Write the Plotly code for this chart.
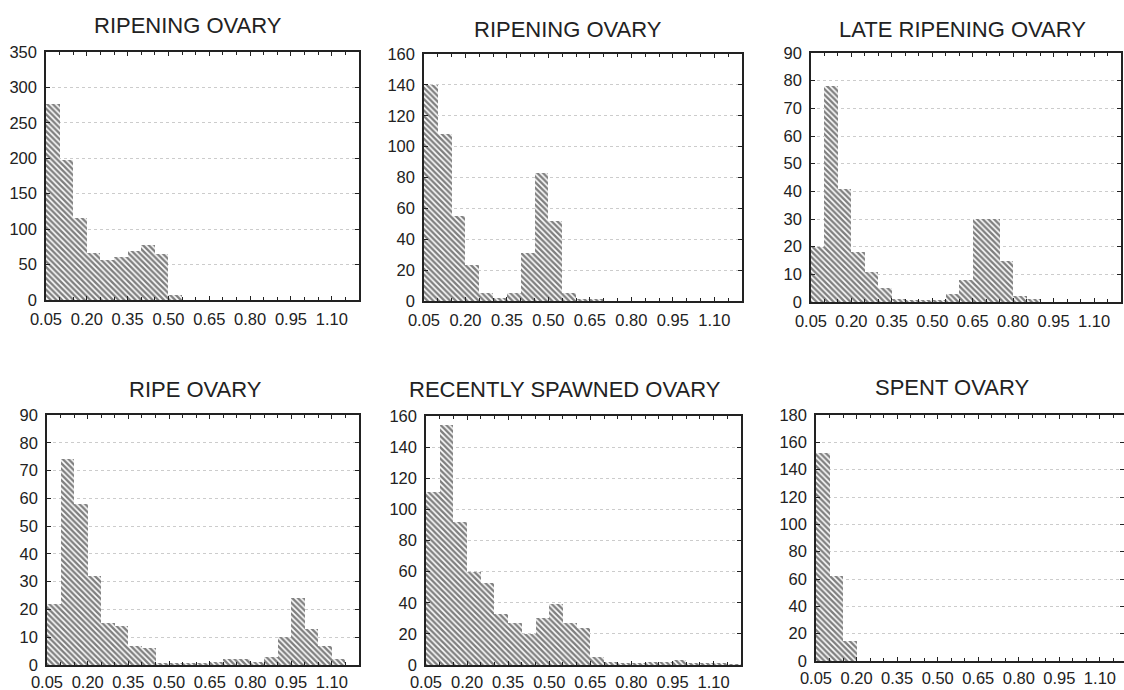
import plotly.graph_objects as go

bin_left = [0.05, 0.10, 0.15, 0.20, 0.25, 0.30, 0.35, 0.40, 0.45, 0.50, 0.55, 0.60,
            0.65, 0.70, 0.75, 0.80, 0.85, 0.90, 0.95, 1.00, 1.05, 1.10, 1.15]
tick_vals = [0.05, 0.20, 0.35, 0.50, 0.65, 0.80, 0.95, 1.10]
tick_text = ["0.05", "0.20", "0.35", "0.50", "0.65", "0.80", "0.95", "1.10"]

titles = ["RIPENING OVARY", "RIPENING OVARY", "LATE RIPENING OVARY",
          "RIPE OVARY", "RECENTLY SPAWNED OVARY", "SPENT OVARY"]

ripening_a = [276, 197, 116, 66, 57, 61, 69, 77, 65, 7, 0, 0, 0, 0, 0, 0, 0, 0, 0, 0, 0, 0, 0]
ripening_b = [140, 108, 55, 23, 5, 2, 5, 31, 83, 52, 5, 1, 1, 0, 0, 0, 0, 0, 0, 0, 0, 0, 0]
late_ripening = [20, 78, 41, 18, 11, 5, 1, 0.5, 0.5, 0.5, 3, 8, 30, 30, 15, 2, 1, 0, 0, 0, 0, 0, 0]
ripe = [22, 74, 58, 32, 15, 14, 7, 6, 0.5, 0.5, 0.5, 0.5, 1, 2, 2, 1, 3, 10, 24, 13, 7, 2, 0]
recently_spawned = [111, 154, 92, 60, 53, 33, 27, 20, 30, 39, 27, 24, 5, 2, 1, 1, 2, 2, 3, 1, 1, 1, 0.5]
spent = [152, 62, 15, 0, 0, 0, 0, 0, 0, 0, 0, 0, 0, 0, 0, 0, 0, 0, 0, 0, 0, 0, 0]

series = [ripening_a, ripening_b, late_ripening, ripe, recently_spawned, spent]
y_max = [350, 160, 90, 90, 160, 180]
y_step = [50, 20, 10, 10, 20, 20]

W, H = 1124, 690
# frame pixel boxes: left, right, top, bottom
frames = [(46, 359, 52, 300), (424, 742, 54, 301), (811, 1121, 53, 302),
          (47, 359, 415, 665), (426, 741, 416, 665), (816, 1124, 415, 661)]
x_hi = [1.20, 1.20, 1.20, 1.20, 1.20, 1.189]
x_standoff = [3, 3, 3, 1, 1, 1]
title_pos = [(188, 25), (568, 29), (962, 30), (195, 390), (565, 390), (952, 387)]

fig = go.Figure()
font_family = "Liberation Sans, Arial, sans-serif"

for i, vals in enumerate(series):
    n = i + 1
    xa = "x" if n == 1 else f"x{n}"
    ya = "y" if n == 1 else f"y{n}"
    fig.add_trace(go.Bar(
        x=bin_left, y=vals, width=0.05, offset=0,
        xaxis=xa, yaxis=ya,
        marker=dict(color="white", line=dict(width=0),
                    pattern=dict(shape="\\", fgcolor="#000000", bgcolor="white",
                                 size=4, solidity=0.6)),
        showlegend=False, hoverinfo="x+y",
    ))
    l, r, t, b = frames[i]
    xkey = "xaxis" if n == 1 else f"xaxis{n}"
    ykey = "yaxis" if n == 1 else f"yaxis{n}"
    fig.layout[xkey] = dict(
        domain=[l / W, r / W], anchor=ya, range=[0.05, x_hi[i]],
        tickvals=tick_vals, ticktext=tick_text, ticks="inside", ticklen=4,
        tickcolor="#222", showline=True, linecolor="#222", linewidth=1.5,
        mirror="ticks", showgrid=False, zeroline=False, automargin=False,
        ticklabelstandoff=x_standoff[i],
        minor=dict(tickvals=bin_left, ticks="inside", ticklen=3, tickcolor="#222"),
        tickfont=dict(family=font_family, size=16.5, color="#222"),
        fixedrange=True,
    )
    fig.layout[ykey] = dict(
        domain=[1 - b / H, 1 - t / H], anchor=xa, range=[0, y_max[i]],
        dtick=y_step[i], tick0=0, ticks="inside", ticklen=4, tickcolor="#222",
        showline=True, linecolor="#222", linewidth=1.5, mirror="ticks",
        showgrid=True, gridcolor="#cccccc", griddash="dot", gridwidth=1,
        zeroline=False, automargin=False, ticklabelstandoff=4,
        tickfont=dict(family=font_family, size=16.5, color="#222"),
        fixedrange=True,
    )
    tx, ty = title_pos[i]
    fig.add_annotation(text=titles[i], x=tx / W, y=1 - ty / H, xref="paper", yref="paper",
                       xanchor="center", yanchor="middle", showarrow=False,
                       font=dict(family=font_family, size=22, color="#222"))

fig.update_layout(width=W, height=H, margin=dict(l=0, r=0, t=0, b=0, autoexpand=False),
                  paper_bgcolor="white", plot_bgcolor="white", bargap=0)
fig.write_html("out.html", config={"displayModeBar": False},
               post_script="document.body.style.margin='0px';document.body.style.overflow='hidden';")
